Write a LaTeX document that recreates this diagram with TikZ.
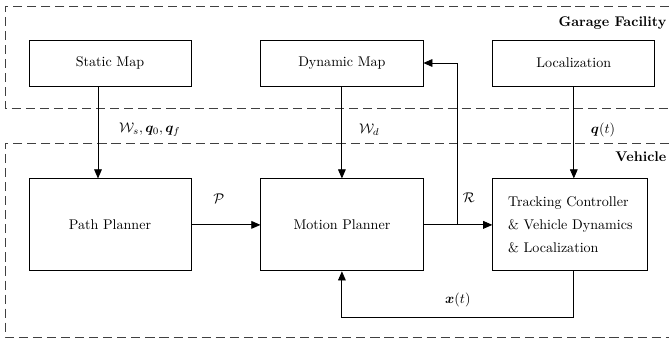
\documentclass[tikz,border=0pt]{standalone}
\usepackage{amsmath,amssymb,bm}
\usepackage{tikz}
\usetikzlibrary{arrows.meta,positioning,calc}

\begin{document}
\begin{tikzpicture}[
  x=0.025cm, y=-0.025cm,
  node distance=2.3cm and 1.725cm,
  blk/.style={draw, line width=0.6pt, align=center, minimum width=4.05cm,
              minimum height=1.15cm, inner sep=4pt},
  bigblk/.style={blk, minimum height=2.3cm},
  zone/.style={draw=black!75, line width=0.6pt, dash pattern=on 6.5pt off 3.5pt},
  zonelabel/.style={font=\bfseries, anchor=east, inner sep=1pt},
  arr/.style={-{Triangle[length=6.5pt,width=5.5pt]}, line width=0.6pt}
]
\useasboundingbox (0,0) rectangle (669,341);

% containers
\draw[zone] (669,6) -| (5,108.7) -- (669,108.7);
\draw[zone] (669,143) -| (5,337) -- (669,337);
\node[zonelabel] (garage) at (668,23) {Garage Facility};
\node[zonelabel] (vehicle) at (668,157) {Vehicle};

% blocks
\node[blk] (static) at (110,63) {Static Map};
\node[blk, right=of static] (dyn) {Dynamic Map};
\node[blk, right=of dyn] (loc) {Localization};
\node[bigblk, below=of static] (path) {Path Planner};
\node[bigblk, below=of dyn] (motion) {Motion Planner};
\node[bigblk, minimum width=3.875cm, align=left, anchor=north west]
  (track) at ([yshift=-2.3cm]loc.south west)
  {Tracking Controller\\[4.5pt] \& Vehicle Dynamics\\[4.5pt] \& Localization};

\coordinate (split) at ($(motion.east)!0.5!(track.west)$);

% signals
\draw[arr] ([xshift=-3mm]static.south) --
  node[right, xshift=4mm, pos=0.47]{$\mathcal{W}_s, \bm{q}_0, \bm{q}_f$}
  ([xshift=-3mm]path.north);
\draw[arr] (dyn) -- node[right, xshift=3mm, pos=0.47]{$\mathcal{W}_d$} (motion);
\draw[arr] (loc.south) -- node[right, xshift=3mm, pos=0.47]{$\bm{q}(t)$}
  (loc.south |- track.north);
\draw[arr] (path) -- node[above=4mm, xshift=-1.8mm]{$\mathcal{P}$} (motion);
\draw[arr] (motion) -- (track);
\draw[arr] (split) |- node[right, pos=0.085]{$\mathcal{R}$} (dyn.east);
\draw[arr] (loc.south |- track.south) -- ++(0,46) -|
  node[above, pos=0.25, yshift=1.2mm]{$\bm{x}(t)$} (motion.south);
\end{tikzpicture}
\end{document}
